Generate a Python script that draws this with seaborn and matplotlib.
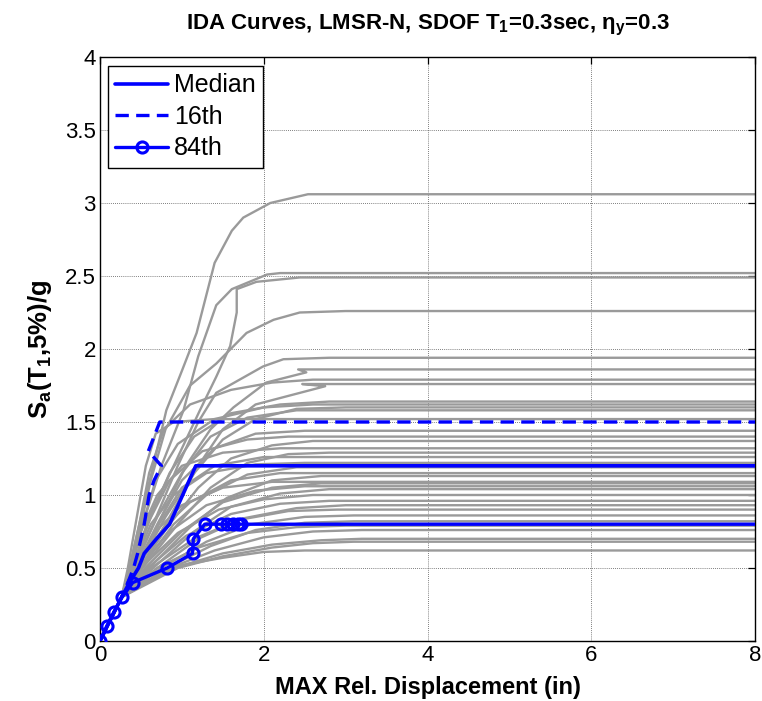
import numpy as np
import pandas as pd
import matplotlib
matplotlib.use("Agg")
import matplotlib.pyplot as plt
from matplotlib.ticker import FuncFormatter
import seaborn as sns

# ---------------- data ----------------
elastic_disp = [0.0, 0.088, 0.176, 0.264]
elastic_sa = [0.0, 0.1, 0.2, 0.3]

# post-yield branch of each IDA curve (disp in inches, Sa in g), ending on its flatline
gray_disp = [
    [0.36, 0.50, 0.65, 0.81, 1.00, 1.18, 1.40, 1.61, 1.75, 2.08, 2.54, 8.0],
    [0.38, 0.55, 0.75, 1.02, 1.20, 1.42, 1.61, 2.04, 2.20, 8.0],
    [0.40, 0.60, 0.90, 1.22, 1.42, 1.59, 1.67, 1.67, 1.91, 2.44, 8.0],
    [0.37, 0.50, 0.62, 0.80, 1.10, 1.42, 1.79, 2.12, 2.44, 3.00, 8.0],
    [0.42, 0.65, 0.95, 1.20, 1.42, 1.99, 2.24, 2.80, 8.0],
    [0.45, 0.75, 1.05, 1.35, 1.63, 2.03, 2.52, 2.42, 8.0],
    [0.36, 0.48, 0.60, 0.78, 1.10, 1.60, 2.10, 2.60, 8.0],
    [0.50, 0.85, 1.20, 1.50, 1.90, 2.75, 2.47, 8.0],
    [0.40, 0.62, 0.85, 1.15, 1.60, 2.20, 2.80, 8.0],
    [0.38, 0.52, 0.68, 0.95, 1.40, 2.00, 2.60, 8.0],
    [0.46, 0.80, 1.15, 1.50, 1.90, 2.40, 3.00, 8.0],
    [0.41, 0.70, 1.00, 1.35, 1.80, 2.40, 8.0],
    [0.34, 0.45, 0.56, 0.68, 0.90, 1.40, 8.0],
    [0.43, 0.70, 1.00, 1.40, 1.90, 2.50, 8.0],
    [0.39, 0.58, 0.85, 1.25, 1.80, 2.30, 8.0],
    [0.48, 0.85, 1.20, 1.60, 2.10, 2.60, 8.0],
    [0.37, 0.50, 0.70, 1.00, 1.50, 2.20, 8.0],
    [0.52, 0.95, 1.35, 1.80, 2.30, 2.80, 8.0],
    [0.44, 0.72, 1.00, 1.40, 2.00, 8.0],
    [0.40, 0.62, 0.90, 1.30, 1.90, 2.50, 8.0],
    [0.50, 0.90, 1.30, 1.80, 2.40, 8.0],
    [0.45, 0.78, 1.10, 1.60, 2.20, 8.0],
    [0.60, 1.10, 1.55, 2.10, 2.70, 8.0],
    [0.42, 0.68, 1.00, 1.50, 2.10, 8.0],
    [0.55, 1.00, 1.50, 2.10, 2.70, 8.0],
    [0.47, 0.85, 1.30, 1.90, 2.50, 8.0],
    [0.65, 1.15, 1.60, 2.20, 2.80, 8.0],
    [0.50, 0.95, 1.45, 2.00, 2.60, 8.0],
    [0.58, 1.05, 1.60, 2.20, 2.80, 8.0],
    [0.70, 1.20, 1.75, 2.40, 3.00, 8.0],
    [0.62, 1.15, 1.70, 2.30, 2.90, 8.0],
    [0.75, 1.30, 1.85, 2.50, 3.10, 8.0],
    [0.82, 1.35, 1.90, 2.50, 3.10, 8.0],
    [0.70, 1.20, 1.80, 2.40, 3.00, 8.0],
    [0.85, 1.40, 2.00, 2.60, 3.20, 8.0],
    [0.90, 1.50, 2.10, 2.70, 3.20, 8.0],
    [0.95, 1.50, 2.10, 2.60, 3.10, 8.0],
    [0.60, 1.00, 1.50, 2.00, 2.50, 8.0],
]
gray_sa = [
    [0.50, 0.85, 1.20, 1.58, 1.85, 2.11, 2.59, 2.81, 2.90, 3.00, 3.06, 3.06],
    [0.50, 0.85, 1.20, 1.58, 1.95, 2.30, 2.41, 2.51, 2.52, 2.52],
    [0.50, 0.85, 1.20, 1.58, 1.81, 2.02, 2.25, 2.41, 2.46, 2.49, 2.49],
    [0.50, 0.80, 1.10, 1.45, 1.75, 1.90, 2.11, 2.20, 2.25, 2.26, 2.26],
    [0.50, 0.80, 1.20, 1.50, 1.70, 1.88, 1.93, 1.94, 1.94],
    [0.50, 0.85, 1.20, 1.45, 1.60, 1.77, 1.84, 1.86, 1.86],
    [0.50, 0.80, 1.15, 1.45, 1.62, 1.72, 1.77, 1.79, 1.79],
    [0.50, 0.85, 1.20, 1.45, 1.62, 1.745, 1.76, 1.76],
    [0.50, 0.85, 1.15, 1.40, 1.56, 1.62, 1.64, 1.64],
    [0.50, 0.80, 1.10, 1.35, 1.52, 1.60, 1.62, 1.62],
    [0.50, 0.85, 1.15, 1.38, 1.52, 1.59, 1.60, 1.60],
    [0.50, 0.85, 1.15, 1.40, 1.53, 1.58, 1.58],
    [0.50, 0.85, 1.20, 1.42, 1.50, 1.52, 1.52],
    [0.50, 0.80, 1.10, 1.32, 1.42, 1.44, 1.44],
    [0.50, 0.80, 1.10, 1.30, 1.38, 1.40, 1.40],
    [0.50, 0.80, 1.05, 1.25, 1.34, 1.37, 1.37],
    [0.50, 0.75, 1.00, 1.20, 1.29, 1.32, 1.32],
    [0.50, 0.80, 1.05, 1.22, 1.28, 1.29, 1.29],
    [0.50, 0.80, 1.05, 1.20, 1.26, 1.26],
    [0.50, 0.80, 1.00, 1.15, 1.21, 1.22, 1.22],
    [0.50, 0.80, 1.00, 1.14, 1.19, 1.19],
    [0.50, 0.78, 0.95, 1.10, 1.15, 1.15],
    [0.50, 0.78, 0.98, 1.10, 1.13, 1.13],
    [0.50, 0.75, 0.93, 1.05, 1.09, 1.09],
    [0.50, 0.75, 0.95, 1.05, 1.08, 1.08],
    [0.50, 0.75, 0.93, 1.03, 1.06, 1.06],
    [0.50, 0.75, 0.92, 1.01, 1.04, 1.04],
    [0.50, 0.74, 0.90, 0.97, 1.00, 1.00],
    [0.50, 0.72, 0.87, 0.94, 0.96, 0.96],
    [0.50, 0.70, 0.84, 0.91, 0.93, 0.93],
    [0.50, 0.70, 0.83, 0.89, 0.90, 0.90],
    [0.50, 0.68, 0.80, 0.85, 0.86, 0.86],
    [0.50, 0.65, 0.76, 0.81, 0.82, 0.82],
    [0.50, 0.64, 0.74, 0.78, 0.79, 0.79],
    [0.50, 0.62, 0.71, 0.75, 0.76, 0.76],
    [0.50, 0.60, 0.66, 0.69, 0.70, 0.70],
    [0.50, 0.58, 0.64, 0.67, 0.68, 0.68],
    [0.45, 0.52, 0.57, 0.61, 0.62, 0.62],
]

median_disp = [0.0, 0.088, 0.176, 0.264, 0.36, 0.47, 0.54, 0.69, 0.85, 0.93, 1.01, 1.09, 1.17, 8.0]
median_sa = [0.0, 0.1, 0.2, 0.3, 0.4, 0.5, 0.6, 0.7, 0.8, 0.9, 1.0, 1.1, 1.2, 1.2]

p16_disp = [0.0, 0.088, 0.176, 0.264, 0.34, 0.41, 0.46, 0.50, 0.54, 0.57, 0.60, 0.66, 0.75, 0.59, 0.66, 0.73, 8.0]
p16_sa = [0.0, 0.1, 0.2, 0.3, 0.4, 0.5, 0.6, 0.7, 0.8, 0.9, 1.0, 1.1, 1.2, 1.3, 1.4, 1.5, 1.5]

p84_disp = [0.0, 0.08, 0.17, 0.27, 0.40, 0.82, 1.13, 1.14, 1.28, 1.48, 1.55, 1.62, 1.68, 1.72, 8.0]
p84_sa = [0.0, 0.1, 0.2, 0.3, 0.4, 0.5, 0.6, 0.7, 0.8, 0.8, 0.8, 0.8, 0.8, 0.8, 0.8]

x_ticks = [0, 2, 4, 6, 8]
y_ticks = [0, 0.5, 1, 1.5, 2, 2.5, 3, 3.5, 4]

title_text = r"IDA Curves, LMSR-N, SDOF T$_1$=0.3sec, $\eta_y$=0.3"
xlabel_text = "MAX Rel. Displacement (in)"
ylabel_text = r"S$_a$(T$_1$,5%)/g"
legend_labels = ["Median", "16th", "84th"]

# ---------------- style ----------------
sns.set_style("white")
plt.rcParams["font.family"] = ["Liberation Sans", "DejaVu Sans"]
plt.rcParams["mathtext.fontset"] = "custom"
plt.rcParams["mathtext.rm"] = "Liberation Sans:bold"
plt.rcParams["mathtext.it"] = "Liberation Sans:bold"
plt.rcParams["mathtext.bf"] = "Liberation Sans:bold"
plt.rcParams["mathtext.default"] = "rm"
for key in ["text.color", "axes.labelcolor", "xtick.color", "ytick.color", "axes.titlecolor"]:
    plt.rcParams[key] = "black"

rows = []
for i, (dx, sy) in enumerate(zip(gray_disp, gray_sa)):
    xs = elastic_disp + dx
    ys = elastic_sa + sy
    for k, (a, b) in enumerate(zip(xs, ys)):
        rows.append((i, k, a, b))
gray_df = pd.DataFrame(rows, columns=["rec", "step", "disp", "sa"])

fig = plt.figure(figsize=(7.62, 7.01), dpi=100)
ax = fig.add_axes([100 / 762, 1 - 641 / 701, 655 / 762, 584 / 701])

sns.lineplot(data=gray_df, x="disp", y="sa", units="rec", estimator=None, sort=False,
             color="#9a9a9a", lw=1.7, ax=ax, legend=False, zorder=2)

blue = "#0000FF"
med_df = pd.DataFrame({"disp": median_disp, "sa": median_sa})
p16_df = pd.DataFrame({"disp": p16_disp, "sa": p16_sa})
p84_df = pd.DataFrame({"disp": p84_disp, "sa": p84_sa})

sns.lineplot(data=med_df, x="disp", y="sa", estimator=None, sort=False, color=blue,
             lw=2.6, ax=ax, label=legend_labels[0], zorder=4)
sns.lineplot(data=p16_df, x="disp", y="sa", estimator=None, sort=False, color=blue,
             lw=2.4, ax=ax, label=legend_labels[1], zorder=4, linestyle=(0, (4, 2.2)))
sns.lineplot(data=p84_df, x="disp", y="sa", estimator=None, sort=False, color=blue,
             lw=2.4, ax=ax, label=legend_labels[2], zorder=5, marker="o", markersize=8,
             markerfacecolor="none", markeredgecolor=blue, markeredgewidth=2.2,
             markevery=list(range(len(p84_disp) - 1)))

ax.set_xlim(0, 8)
ax.set_ylim(0, 4)
ax.set_xticks(x_ticks)
ax.set_yticks(y_ticks)
ax.yaxis.set_major_formatter(FuncFormatter(lambda v, p: f"{v:g}"))
ax.xaxis.set_major_formatter(FuncFormatter(lambda v, p: f"{v:g}"))
ax.grid(True, which="major", color="#555555", linestyle=(0, (1, 1.5)), linewidth=0.6, zorder=0)
ax.set_axisbelow(True)
ax.tick_params(direction="in", length=5, width=0.9, top=True, right=True,
               labelsize=16, colors="black", labelcolor="black", pad=3)
for sp in ax.spines.values():
    sp.set_color("black")
    sp.set_linewidth(1.0)
    sp.set_visible(True)

ax.set_title(title_text, fontsize=16, fontweight="bold", pad=20, color="black")
ax.set_xlabel(xlabel_text, fontsize=17, fontweight="bold", labelpad=7, color="black")
ax.set_ylabel(ylabel_text, fontsize=18.5, fontweight="bold", labelpad=8, color="black")

leg = ax.legend(loc="upper left", bbox_to_anchor=(0.012, 0.985), borderaxespad=0,
                fontsize=18, frameon=True, fancybox=False, framealpha=1,
                edgecolor="black", handlelength=2.1, handletextpad=0.25,
                labelspacing=0.3, borderpad=0.3, labelcolor="black")
leg.get_frame().set_linewidth(1.0)

fig.savefig("out.png", dpi=100)
